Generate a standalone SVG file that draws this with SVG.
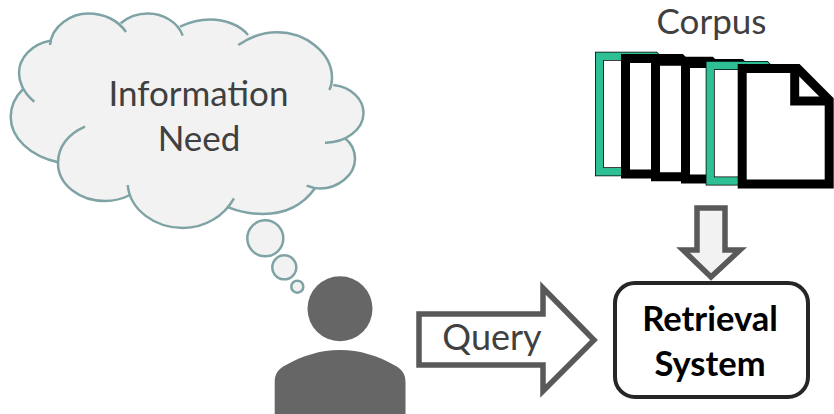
<svg xmlns="http://www.w3.org/2000/svg" width="834" height="414" viewBox="0 0 834 414">
<style>
text{font-family:"Lato","Carlito","Open Sans",sans-serif;text-anchor:middle}
.t{font-size:35px;fill:#404040}
.b{font-size:34.5px;font-weight:700;fill:#000}
.c{fill:none;stroke:#7fa3a5;stroke-width:2.5;stroke-linecap:butt}
.p{fill:#f2f2f2;stroke:#7fa3a5;stroke-width:2.5}
.doc{fill:#fff;stroke:#000;stroke-width:9;stroke-linejoin:miter}
.green{fill:none;stroke:#2fbf94;stroke-width:7.5}
.arrow{stroke:#595959;stroke-width:5.5;stroke-linejoin:miter}
</style>
<defs>
<path id="sheet" d="M4.5,4.5H60L91.5,36V120H4.5Z"/>
</defs>
<rect width="834" height="414" fill="#fff"/>
<g id="cloud">
<path d="M22.7,89.3C15,97 10.7,106 10.7,117C10.7,138 30,156 58,162.3C58,185 80,201 105,201C113,201 122,199 130,195C140,215 160,228 183,228C205,228 220,218 228.3,207.3C238,211 250,214 263,214C285,214 303,205 315,188.3C338,188.5 355,175 355,159C355,150 351,143 345,138.3C355,134 363.5,125 363.5,113C363.5,100 352,87 331,85C332,83 332,80 332,78C332,52 305,32.3 277,32.3C266,32.3 256,33 248,35C240,25 225,19.5 210,19.5C200,19.5 190,22 180,26.7C170,18 160,13.5 148,13.5C138,13.5 128,17 120.7,23.3C112,17 100,13.5 88,13.5C72,13.5 52,25 50,40.7C32,44 19,58 19,73C19,80 20,85 22.7,89.3Z" fill="#f2f2f2"/>
<path class="c" d="M34.3,101.7C22,92 19,80 19,73C19,58 32,44 50,40.7"/>
<path class="c" d="M50,45C52,25 72,13.5 88,13.5C104,13.5 118,20 126,32"/>
<path class="c" d="M120.7,23.3C128,17 138,13.5 148,13.5C163,13.5 178,22 182.7,35.7"/>
<path class="c" d="M180,26.7C190,22 200,19.5 210,19.5C225,19.5 240,25 248,35"/>
<path class="c" d="M238.3,45C250,37 264,32.3 277,32.3C305,32.3 332,52 332,78C332,83 331,87 329.3,90"/>
<path class="c" d="M333.3,85C352,87 363.5,100 363.5,113C363.5,130 345,143 325,142.7"/>
<path class="c" d="M345,138.3C351,143 355,150 355,159C355,175 338,188.5 320,188.5C316,188.5 311,187.5 306.7,185.7"/>
<path class="c" d="M315,188.3C303,205 285,214 263,214C250,214 238,211 228.3,207.3"/>
<path class="c" d="M234,198.3C224,216 205,228 183,228C155,228 130,210 127.7,185"/>
<path class="c" d="M130,195C122,199 113,201 105,201C80,201 58,185 58,163C58,147 68,134 85,126.7"/>
<path class="c" d="M58,162.3C30,156 10.7,138 10.7,117C10.7,106 15,97 22.7,89.3"/>
<circle class="p" cx="265.3" cy="238.3" r="18"/>
<circle class="p" cx="284.3" cy="267.3" r="12"/>
<circle class="p" cx="297.3" cy="286.7" r="6"/>
<text class="t" x="198.5" y="106">Information</text>
<text class="t" x="199" y="151">Need</text>
</g>
<g id="user" fill="#666">
<ellipse cx="340" cy="308.7" rx="32.5" ry="32.5"/>
<path d="M274.7,414V382C274.7,374 278,369 286,365C302,356 320,350 340,350C360,350 378,356 394,365C402,369 405.5,374 405.5,382V414Z"/>
</g>
<g id="corpus">
<text class="t" x="711.5" y="34">Corpus</text>
<g transform="translate(595,51.7)"><use href="#sheet" class="doc"/><use href="#sheet" class="green"/></g>
<use href="#sheet" class="doc" transform="translate(621,54)"/>
<use href="#sheet" class="doc" transform="translate(651,56.7)"/>
<use href="#sheet" class="doc" transform="translate(681,59)"/>
<g transform="translate(705.7,61)"><use href="#sheet" class="doc"/><use href="#sheet" class="green"/></g>
<g transform="translate(737.7,64)"><use href="#sheet" class="doc"/><path class="doc" style="fill:none" d="M57,4V37H92"/></g>
</g>
<g id="retrieval-system">
<rect x="615" y="283" width="193" height="114" rx="20" fill="#fff" stroke="#262626" stroke-width="4"/>
<text class="b" x="710" y="331">Retrieval</text>
<text class="b" x="710" y="376">System</text>
</g>
<g id="connectors">
<path id="query-arrow" class="arrow" fill="#fff" d="M419,314H543V288L594,340L543,391V365H419Z"/>
<path id="corpus-arrow" class="arrow" fill="#f2f2f2" d="M697,208H725V250H740L711,277L683,250H697Z"/>
<text style="font-size:36px;fill:#404040" x="492" y="350">Query</text>
</g>
</svg>
